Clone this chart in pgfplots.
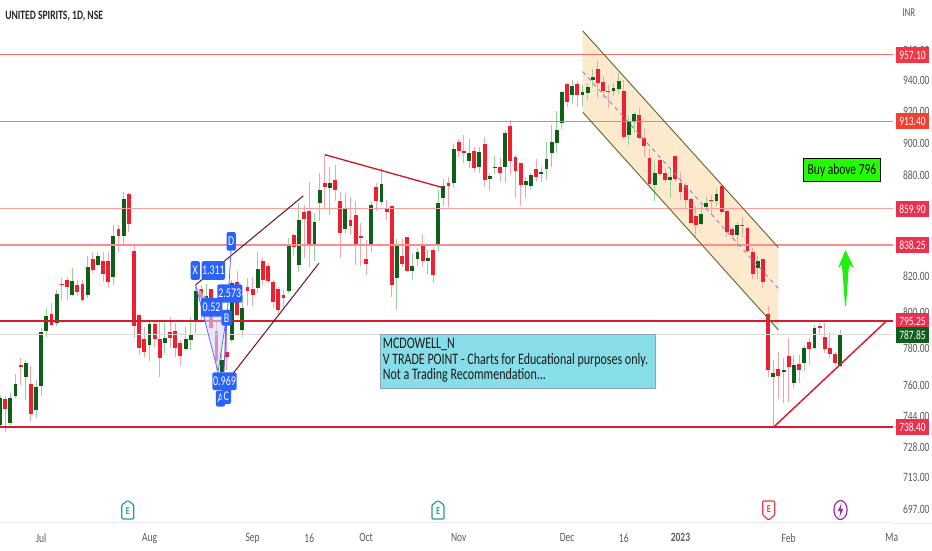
\documentclass[border=0pt]{standalone}
\usepackage{fontspec}
\setmainfont[FakeStretch=0.75]{Carlito}
\usepackage{pgfplots}
\usepackage{pgfplotstable}
\pgfplotsset{compat=1.18}
\usetikzlibrary{shapes.geometric}
\definecolor{upbody}{HTML}{0F5E1A}
\definecolor{dnbody}{HTML}{F01F30}
\definecolor{upwick}{HTML}{93D39A}
\definecolor{dnwick}{HTML}{F5A3AC}
\definecolor{tick}{HTML}{5A5A5A}
\definecolor{tvblue}{HTML}{2962FF}
\definecolor{chanfill}{HTML}{FDE9CE}
\definecolor{chanline}{HTML}{5F6B2E}
\definecolor{maroon}{HTML}{6B1B30}
\definecolor{notefill}{HTML}{88DEE8}
\definecolor{notedraw}{HTML}{8CA6B4}
\definecolor{buyfill}{HTML}{22FF00}
\definecolor{arrowc}{HTML}{22EE11}
\definecolor{plred}{HTML}{F23645}
\definecolor{plorange}{HTML}{F5402F}
\definecolor{plrose}{HTML}{EE3050}
\definecolor{evgreen}{HTML}{22A08A}
\definecolor{evred}{HTML}{E8394A}
\definecolor{evpurple}{HTML}{9C27B0}
% i low bodylow bodyhigh high
\pgfplotstableread{
i low bot top high
0 738.7 739.5 753.4 754.3
2 739.5 740.4 753.8 756
3 753.4 754.8 761 766.3
5 752.6 764.5 772 773.8
7 743 747 759.2 763
8 754.3 760 788.9 791
9 786.5 789.8 798 802
11 792.4 793.8 810 812.5
14 808.8 809.7 817.3 825
17 807.8 809.7 825.3 832
19 825.9 826.8 831.6 834.4
22 815.4 819.7 843.7 850.2
24 838.3 843.7 865.5 870
29 773.5 781.6 793.5 794.8
32 777.4 782.9 786 793.8
36 779.2 779.8 785 792
37 779.2 784.7 788 797.5
38 788.4 795.7 811.6 815.4
40 798 803.1 808.8 815.7
43 766.7 767.6 773.8 779
45 783.8 784.7 816.3 818
47 786.5 790 802 808.8
50 810.7 813.7 824.3 834.4
56 810.7 811.6 838.3 842.3
58 822.4 826.8 853.1 863.1
61 828.7 838.3 851.8 857
62 852.7 863.1 871.1 881.3
64 856.1 872.3 875.3 885.4
67 845.2 847.8 859.7 869.1
72 834.4 838 861.7 864.1
74 862.1 863.9 874.9 884.4
77 801 819 837.8 841.5
80 817.8 823 826.2 833.5
81 825.9 829.9 834 836.4
83 821.6 829 831 835.4
85 834.4 838.5 863.5 871.1
86 861.1 866.1 873.5 877.6
88 872.7 875.5 896.5 899.5
91 884.4 889.1 893.6 902.4
93 881.3 885.2 894.7 897.8
95 870.7 877.6 879.4 881.7
96 880.9 884.8 885.2 892
98 875.5 885.2 906.2 908.4
102 866.1 874.1 876.5 879.2
103 871.5 873.7 880 881.3
105 876.1 880.7 881.9 885.4
106 877.2 884 889.9 900.6
107 885.4 893.6 901 911.5
108 894 900.3 908 920.4
109 908.8 912.5 932.6 933
111 925.1 930.4 936.7 940.6
113 923.9 930.4 932.4 937.3
114 927.6 932.3 935.8 938.4
115 936.2 940.2 942.3 947.5
119 930.2 933 934.9 938.4
120 931.4 934.7 939.7 945.4
122 898.9 905.1 914.3 917.3
123 906.2 914.3 918.5 920
127 864.7 874.1 881.4 888.6
130 866.1 877 878.7 884.4
136 849.5 850.9 856.7 861.1
137 859.5 860.7 863.3 867
139 861.1 864.3 868.6 872.1
143 837.4 844.2 849.9 852.1
147 818.5 824.9 829.1 831.6
150 738.4 764.6 767 773.8
152 750.7 767.6 768.5 774.7
154 758.7 761.4 771.3 776.5
156 767.8 772.4 780.1 782
158 779.6 780.1 791 792.9
163 770.1 770.7 787.85 790
}\upcandles
\pgfplotstableread{
i low bot top high
1 736 748 752.9 754.3
4 760.4 769.9 770.8 774.7
6 741.2 745 760.8 770.6
10 792 793 799 804.8
12 807 815 816 819.2
13 807 814 818 820
15 808.8 811.2 815.4 818
16 805.4 806.5 816 818
18 822 823.6 830 834.4
20 817 821.5 829 834.4
21 813.5 816.7 829 834.4
23 834.4 843.7 847.8 850.2
25 846.2 850.6 868.5 869
26 785.6 792.6 834.8 837.8
27 776.5 780 798.7 798.7
28 775.6 778.3 785 792
30 781 785 793.5 795.7
31 764.9 774.7 785.4 795.7
33 781 786 788.9 797.5
34 775.6 780.5 789.6 793.8
35 771.2 776 783.2 784.7
39 795.7 807.8 813 815.4
41 790 791 813 813
42 768.5 773.5 789.6 795.7
44 768.5 775.6 778 790
46 798.4 798.4 816.7 823
48 803.5 811.8 814.2 819.2
49 803.5 809.5 813 820
51 815.4 818.2 828.7 830.6
52 816.3 817.3 825.9 827.8
53 802.2 805.8 817 818
54 798.4 801.3 813 814
55 802 808 809.5 812.5
57 831.6 837.4 843.9 845.2
59 830.6 853.7 858 862
60 825.5 838 858.1 876.1
63 859.1 873.1 875.3 892.6
65 864.1 871.1 877.2 886.4
66 830.6 845.6 864.1 870.1
68 844.3 849.2 853.1 867.1
69 826.8 838.9 855.7 864.1
70 825.9 842.5 843.5 851.2
71 821 827 830.2 841.3
73 858.1 864.7 873.1 875.1
75 853.1 857.9 859.9 865
76 808.4 815.4 861.5 861.5
78 825.5 827.2 831.6 841.5
79 822.4 823.4 843.1 843.1
82 825.5 828.7 838.3 845
84 816.3 820.7 835.4 837.4
87 860.7 873.3 875.1 879.2
89 891.2 895.1 900.6 902.4
90 887.9 894 895.3 904.8
92 882.3 884.8 895.3 897.8
94 872.7 877 899.5 904.1
97 876.1 881.7 885.2 890.5
99 880.3 888.9 911 914.7
100 866.1 882.7 891.2 892.6
101 861.5 874.1 887.5 887.5
104 876.1 878.8 884.2 889.9
110 923 926.4 937.6 938.4
112 923 930.6 937.6 939.5
116 929 938.4 947.5 953.2
117 928.6 933.4 939 943.2
118 922.6 932.7 933.6 937.3
121 902.4 903.7 933.6 940.6
124 902.4 903.5 917.9 922.2
125 891.2 898.3 903.5 909.4
126 872.1 874.5 890.4 896.2
128 879.3 880.7 889.3 889.9
129 875.1 877.2 881.2 883.8
131 876.2 877.9 892 892
132 865.1 869.9 875.1 882
133 859.1 865.1 874.3 875.1
134 851.1 851.5 865.5 866
135 843.2 850.3 855.3 861.1
138 856.1 864.3 865 868
140 856.1 857.9 873.7 874.1
141 843.2 846 858.3 858.7
142 841.6 844.2 847.6 849.1
144 843.2 849.5 850.3 854.7
145 834.1 834.5 848.5 849.1
146 818.5 821.6 834.1 836.4
148 813.8 816.7 830 830
149 764.6 768.5 799 803.2
151 752.9 765.3 768.8 778.3
153 751.2 770.1 776 785.9
155 761.4 768.5 771.6 776.5
157 771.1 779.8 783.5 785.9
159 787.4 791.4 792.4 793.8
160 777.8 779.6 786.3 793.8
161 774.7 777.2 780 788.9
162 770.5 772.4 777 778
}\dncandles
\begin{document}
\begin{tikzpicture}
\path[use as bounding box] (0,0) rectangle (699pt,-412.5pt);
\begin{axis}[
  at={(0,0)},anchor=north west,
  scale only axis,width=669.75pt,height=392.25pt,
  ymode=log,
  xmin=0,xmax=173.23,ymin=690.7,ymax=994.5,
  axis y line*=right,axis x line*=bottom,
  x axis line style={draw=black!8,line width=.75pt},
  y axis line style={draw=none},
  major tick length=0pt,minor tick length=0pt,
  xtick={8,29,49,60,71,89,110,121,132,153,173},
  xticklabels={Jul,Aug,Sep,16,Oct,Nov,Dec,16,\textbf{2023},Feb,Ma},
  xticklabel style={font=\fontsize{9.5}{9.5}\selectfont,text=tick,yshift=-4.5pt},
  ytick={697,713,728,744,760,780,800,820,840,860,880,900,920,940,960},
  yticklabels={697.00,713.00,728.00,744.00,760.00,780.00,800.00,820.00,840.00,860.00,880.00,900.00,920.00,940.00,960.00},
  yticklabel style={font=\fontsize{9.5}{9.5}\selectfont,text=tick,anchor=west,xshift=4pt},
  clip=true,
]
% channel fill
\addplot[fill=chanfill,draw=none,forget plot] coordinates {(113.04,973.2)(151,836.8)(151,790.1)(113.04,919.6)} --cycle;
% candles
\addplot[draw=none,mark=none,forget plot,error bars/.cd,y dir=plus,y explicit,error mark=none,error bar style={draw=upwick,line width=.75pt}]
  table[x=i,y=low,y error plus expr=\thisrow{high}-\thisrow{low}] {\upcandles};
\addplot[draw=none,mark=none,forget plot,error bars/.cd,y dir=plus,y explicit,error mark=none,error bar style={draw=dnwick,line width=.75pt}]
  table[x=i,y=low,y error plus expr=\thisrow{high}-\thisrow{low}] {\dncandles};
\addplot[draw=none,mark=none,forget plot,error bars/.cd,y dir=plus,y explicit,error mark=none,error bar style={draw=upbody,line width=2.9pt}]
  table[x=i,y=bot,y error plus expr=\thisrow{top}-\thisrow{bot}] {\upcandles};
\addplot[draw=none,mark=none,forget plot,error bars/.cd,y dir=plus,y explicit,error mark=none,error bar style={draw=dnbody,line width=2.9pt}]
  table[x=i,y=bot,y error plus expr=\thisrow{top}-\thisrow{bot}] {\dncandles};
% horizontal levels
\addplot[color=black!15,line width=.75pt] coordinates {(0,787.85)(173.23,787.85)};
\addplot[color=red!60!white,line width=.75pt] coordinates {(0,957.1)(173.23,957.1)};
\addplot[color=red!55!white,line width=.9pt] coordinates {(0,913.4)(173.23,913.4)};
\addplot[color=red!38!white,line width=.9pt] coordinates {(0,859.9)(173.23,859.9)};
\addplot[color=red!45!white,line width=1.1pt] coordinates {(0,838.25)(173.23,838.25)};
\addplot[color=dnbody!90!black,line width=1.5pt] coordinates {(0,795.25)(173.23,795.25)};
\addplot[color=dnbody!90!black,line width=1.1pt] coordinates {(0,738.4)(173.23,738.4)};
% channel lines
\addplot[color=chanline,line width=.7pt] coordinates {(113.04,973.2)(151,836.8)};
\addplot[color=chanline,line width=.7pt] coordinates {(113.04,919.6)(151,790.1)};
\addplot[color=blue!30!gray!70!white,line width=.7pt,dashed] coordinates {(113.04,946)(151,813.2)};
% trend lines
\addplot[color=maroon,line width=.8pt] coordinates {(37.96,815.3)(58.84,867.5)};
\addplot[color=maroon,line width=.8pt] coordinates {(43.98,762.2)(61.88,827.7)};
\addplot[color=dnbody!85!black,line width=1pt] coordinates {(62.99,892.8)(85.88,872.5)};
\addplot[color=dnbody!90!black,line width=1.1pt] coordinates {(150.1,738.4)(172,795.25)};
\end{axis}
\begin{scope}[x=.75pt,y=-.75pt]
\draw[black!8,line width=.75pt] (893,523)--(932,523);
% harmonic pattern
\fill[blue!15,opacity=.6] (195.7,285)--(218,372)--(226,320)--cycle;
\fill[blue!15,opacity=.6] (226,320)--(224,372)--(231.3,245)--cycle;
\draw[blue!60!white,line width=.6pt] (195.7,285)--(218,372)--(226,320)--(224,372)--(231.3,245);
\tikzset{pat/.style={fill=tvblue,rounded corners=1.5pt,text=white,inner sep=0pt,font=\fontsize{10}{10}\selectfont}}
\node[pat,minimum width=7pt,minimum height=12pt] at (220.5,398.5) {A};
\node[pat,minimum width=7pt,minimum height=12pt] at (226.4,396) {C};
\node[pat,minimum width=18.3pt,minimum height=13.2pt] at (224.5,381.2) {0.969};
\node[pat,minimum width=7pt,minimum height=14pt] at (231.2,241.4) {D};
\node[pat,minimum width=7pt,minimum height=14pt] at (195.3,270.5) {X};
\node[pat,minimum width=17.5pt,minimum height=14pt] at (213.4,270.5) {1.311};
\node[pat,minimum width=18.7pt,minimum height=13.8pt] at (229.8,293.5) {2.573};
\node[pat,minimum width=7.7pt,minimum height=11.8pt] at (226.5,317.8) {B};
\node[pat,minimum width=16pt,minimum height=14pt] at (211.6,307.2) {0.52};
% text box
\node[draw=notedraw,fill=notefill,line width=.7pt,anchor=north west,minimum width=206pt,minimum height=40pt,inner sep=0pt] at (380,334.3) {};
\node[anchor=north west,align=left,inner sep=0pt,text=black!90,font=\fontsize{12}{11.7}\selectfont] at (382.5,338) {MCDOWELL\_N\\V TRADE POINT - Charts for Educational purposes only.\\Not a Trading Recommendation...};
% buy box
\node[draw=black,fill=buyfill,line width=.8pt,minimum width=58pt,minimum height=17.2pt,inner sep=0pt,font=\fontsize{11.5}{11.5}\selectfont,text=black] at (842,170.2) {Buy above 796};
\fill[arrowc] (845.5,250)--(854,268)--(849,265)--(846,306)--(845,306)--(842,265)--(838,268)--cycle;
% price labels
\tikzset{pl/.style={minimum width=24.75pt,minimum height=12pt,inner sep=0pt,text=white,font=\fontsize{9.5}{9.5}\selectfont}}
\node[pl,fill=plred] at (912.5,55) {957.10};
\node[pl,fill=plorange] at (912.5,121) {913.40};
\node[pl,fill=plrose] at (912.5,209) {859.90};
\node[pl,fill=plrose] at (912.5,245) {838.25};
\node[pl,fill=plrose] at (912.5,321) {795.25};
\node[pl,fill=upbody] at (912.5,335) {787.85};
\node[pl,fill=plrose] at (912.5,427) {738.40};
% title
\node[anchor=west,inner sep=0pt,text=black!85,font=\fontsize{9.6}{9.6}\selectfont\bfseries] at (5,16) {UNITED SPIRITS, 1D, NSE};
\node[anchor=west,inner sep=0pt,text=tick,font=\fontsize{9}{9}\selectfont] at (902,13) {INR};
% event markers
\foreach \ex in {127.8,438}{
 \draw[evgreen,fill=white,line width=.9pt,rounded corners=.8pt] (\ex-6,519)--(\ex+6,519)--(\ex+6,505)--(\ex,500.5)--(\ex-6,505)--cycle;
 \node[text=evgreen,inner sep=0pt,font=\fontsize{8}{8}\selectfont\bfseries] at (\ex,511) {E};
}
\draw[evred,fill=white,line width=.9pt,rounded corners=.8pt] (762.7,501)--(774.7,501)--(774.7,515)--(768.7,520)--(762.7,515)--cycle;
\node[text=evred,inner sep=0pt,font=\fontsize{8}{8}\selectfont\bfseries] at (768.7,509) {E};
\draw[evpurple,fill=white,line width=.9pt] (840.5,510) ellipse (6.6 and 9.5);
\fill[evpurple] (841.5,503)--(837.8,511)--(840.3,511)--(839.5,517)--(843.2,509)--(840.7,509)--cycle;
\end{scope}
\end{tikzpicture}
\end{document}
